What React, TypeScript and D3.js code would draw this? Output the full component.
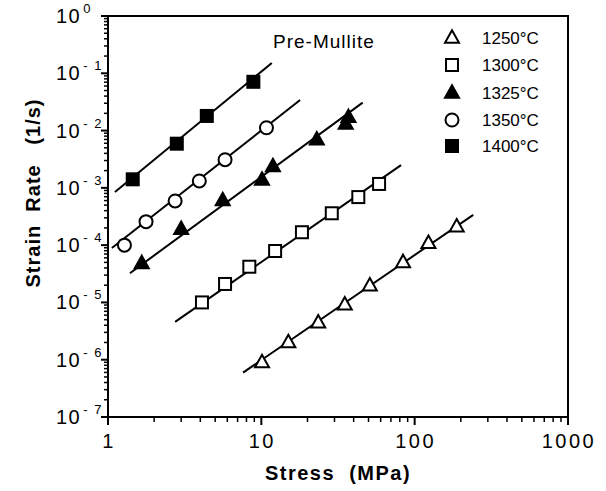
import React from "react";
import * as d3 from "d3";

// ---- data ----
const seriesNames = ["1250°C", "1300°C", "1325°C", "1350°C", "1400°C"];
const seriesSymbols = ["triangleOpen", "squareOpen", "triangleFilled", "circleOpen", "squareFilled"];

const s1250: [number, number][] = [
  [10.1, 8.9e-7], [15, 2.0e-6], [23.5, 4.4e-6], [35, 9.1e-6], [51, 1.95e-5], [84, 5.0e-5], [123, 1.08e-4], [188, 2.1e-4],
];
const s1300: [number, number][] = [
  [4.1, 1.0e-5], [5.8, 2.1e-5], [8.35, 4.2e-5], [12.3, 7.9e-5], [18.4, 1.68e-4], [28.8, 3.6e-4], [42.9, 6.9e-4], [58.6, 1.17e-3],
];
const s1325: [number, number][] = [
  [1.66, 4.8e-5], [3.0, 1.9e-4], [5.6, 6.0e-4], [10.1, 1.37e-3], [11.9, 2.35e-3], [23, 6.9e-3], [35.5, 1.3e-2], [37, 1.7e-2],
];
const s1350: [number, number][] = [
  [1.28, 1.0e-4], [1.77, 2.57e-4], [2.74, 5.9e-4], [3.94, 1.32e-3], [5.8, 3.1e-3], [10.8, 1.12e-2],
];
const s1400: [number, number][] = [
  [1.45, 1.41e-3], [2.81, 5.9e-3], [4.41, 1.8e-2], [8.87, 7.1e-2],
];
const seriesData = [s1250, s1300, s1325, s1350, s1400];

// fitted lines: [x, y] endpoints
const fit1250: [number, number][] = [[7.6, 5.96e-7], [241, 3.37e-4]];
const fit1300: [number, number][] = [[2.74, 4.57e-6], [81.5, 2.5e-3]];
const fit1325: [number, number][] = [[1.39, 3.24e-5], [45.8, 3.07e-2]];
const fit1350: [number, number][] = [[1.06, 8.9e-5], [17.9, 3.42e-2]];
const fit1400: [number, number][] = [[1.11, 8.5e-4], [11.7, 0.151]];
const fits = [fit1250, fit1300, fit1325, fit1350, fit1400];

const xTickValues = [1, 10, 100, 1000];
const xTickLabels = ["1", "10", "100", "1000"];
const yTickExponents = [0, -1, -2, -3, -4, -5, -6, -7];

const title = "Pre-Mullite";
const xTitle = "Stress  (MPa)";
const yTitle = "Strain  Rate   (1/s)";

// ---- layout ----
const W = 606;
const H = 491;
const left = 108;
const right = 568;
const top = 16;
const bottom = 417;
const font = "'Liberation Sans', Arial, Helvetica, sans-serif";

function Marker({ kind, x, y }: { kind: string; x: number; y: number }) {
  const sw = 2;
  if (kind === "squareOpen" || kind === "squareFilled") {
    const s = 12;
    return (
      <rect x={x - s / 2} y={y - s / 2} width={s} height={s}
        fill={kind === "squareFilled" ? "#000" : "#fff"} stroke="#000" strokeWidth={sw} />
    );
  }
  if (kind === "circleOpen") {
    return <circle cx={x} cy={y} r={6.5} fill="#fff" stroke="#000" strokeWidth={sw} />;
  }
  const h = 12.5;
  const w = 14;
  const pts = `${x},${y - h * 0.62} ${x + w / 2},${y + h * 0.38} ${x - w / 2},${y + h * 0.38}`;
  return (
    <polygon points={pts} fill={kind === "triangleFilled" ? "#000" : "#fff"}
      stroke="#000" strokeWidth={sw} strokeLinejoin="miter" />
  );
}

export default function App() {
  const x = d3.scaleLog().domain([1, 1000]).range([left, right]);
  const y = d3.scaleLog().domain([1e-7, 1]).range([bottom, top]);
  const line = d3.line<[number, number]>().x((d) => x(d[0])).y((d) => y(d[1]));

  const xMinor: number[] = [];
  for (let dec = 1; dec < 1000; dec *= 10) {
    for (let k = 2; k <= 9; k++) xMinor.push(dec * k);
  }
  const yMinor: number[] = [];
  for (let e = -7; e < 0; e++) {
    for (let k = 2; k <= 9; k++) yMinor.push(k * Math.pow(10, e));
  }

  const legendX = 452;
  const legendY = [38, 65, 93, 120, 146];

  return (
    <svg width={W} height={H} style={{ position: "absolute", left: 0, top: 0, background: "#fff" }}
      fontFamily={font}>
      <rect x={0} y={0} width={W} height={H} fill="#fff" />
      {/* fit lines */}
      {fits.map((f, i) => (
        <path key={"f" + i} d={line(f) || ""} fill="none" stroke="#000" strokeWidth={2} />
      ))}
      {/* points */}
      {seriesData.map((s, i) =>
        s.map((d, j) => <Marker key={`m${i}-${j}`} kind={seriesSymbols[i]} x={x(d[0])} y={y(d[1])} />)
      )}
      {/* frame */}
      <rect x={left} y={top} width={right - left} height={bottom - top} fill="none" stroke="#000" strokeWidth={2} />
      {/* x ticks */}
      {xMinor.map((v, i) => (
        <line key={"xm" + i} x1={x(v)} x2={x(v)} y1={bottom} y2={bottom + 5} stroke="#000" strokeWidth={1.5} />
      ))}
      {xTickValues.map((v, i) => (
        <g key={"xt" + i}>
          <line x1={x(v)} x2={x(v)} y1={bottom} y2={bottom + 8} stroke="#000" strokeWidth={2} />
          <text x={x(v) + 1} y={bottom + 31} textAnchor="middle" fontSize={20} letterSpacing={2.5}>{xTickLabels[i]}</text>
        </g>
      ))}
      {/* y ticks */}
      {yMinor.map((v, i) => (
        <line key={"ym" + i} x1={left - 4} x2={left} y1={y(v)} y2={y(v)} stroke="#000" strokeWidth={1.5} />
      ))}
      {yTickExponents.map((e, i) => {
        const yy = y(Math.pow(10, e));
        return (
          <g key={"yt" + i}>
            <line x1={left - 7} x2={left} y1={yy} y2={yy} stroke="#000" strokeWidth={2} />
            <text x={56} y={yy + 7} fontSize={20} letterSpacing={1.5}>
              10
              <tspan fontSize={13} dy={-10} dx={2}>{e === 0 ? "0" : `- ${-e}`}</tspan>
            </text>
          </g>
        );
      })}
      {/* title */}
      <text x={273} y={48} fontSize={19} letterSpacing={1}>{title}</text>
      {/* legend */}
      {seriesNames.map((n, i) => (
        <g key={"l" + i}>
          <Marker kind={seriesSymbols[i]} x={legendX} y={legendY[i]} />
          <text x={482} y={legendY[i] + 6} fontSize={17}>{n}</text>
        </g>
      ))}
      {/* axis titles */}
      <text x={338} y={480} textAnchor="middle" fontSize={20} fontWeight="bold" letterSpacing={1.5}
        style={{ whiteSpace: "pre" }}>{xTitle}</text>
      <text transform={`translate(40, ${193}) rotate(-90)`} textAnchor="middle" fontSize={20} fontWeight="bold"
        letterSpacing={1} style={{ whiteSpace: "pre" }}>{yTitle}</text>
    </svg>
  );
}
